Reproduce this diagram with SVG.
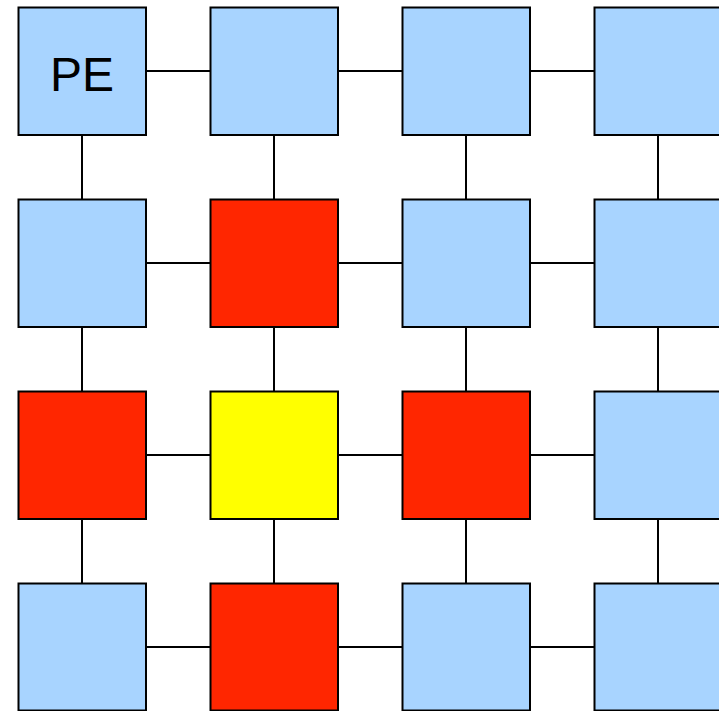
<svg xmlns="http://www.w3.org/2000/svg" width="719" height="711" viewBox="0 0 719 711">
<style>
.pe{stroke:#000;stroke-width:2}
.b{fill:#a8d4ff}
.r{fill:#ff2600}
.y{fill:#ffff00}
.c line{stroke:#000;stroke-width:2}
text{font-family:"Liberation Sans",Arial,sans-serif;font-size:48px;fill:#000}
</style>
<rect width="719" height="711" fill="#fff"/>
<g class="c" id="connectors">
<line x1="146" y1="71" x2="210" y2="71"/><line x1="338" y1="71" x2="402" y2="71"/><line x1="530" y1="71" x2="594" y2="71"/>
<line x1="146" y1="263" x2="210" y2="263"/><line x1="338" y1="263" x2="402" y2="263"/><line x1="530" y1="263" x2="594" y2="263"/>
<line x1="146" y1="455" x2="210" y2="455"/><line x1="338" y1="455" x2="402" y2="455"/><line x1="530" y1="455" x2="594" y2="455"/>
<line x1="146" y1="647" x2="210" y2="647"/><line x1="338" y1="647" x2="402" y2="647"/><line x1="530" y1="647" x2="594" y2="647"/>
<line x1="82" y1="135" x2="82" y2="199"/><line x1="274" y1="135" x2="274" y2="199"/><line x1="466" y1="135" x2="466" y2="199"/><line x1="658" y1="135" x2="658" y2="199"/>
<line x1="82" y1="327" x2="82" y2="391"/><line x1="274" y1="327" x2="274" y2="391"/><line x1="466" y1="327" x2="466" y2="391"/><line x1="658" y1="327" x2="658" y2="391"/>
<line x1="82" y1="519" x2="82" y2="583"/><line x1="274" y1="519" x2="274" y2="583"/><line x1="466" y1="519" x2="466" y2="583"/><line x1="658" y1="519" x2="658" y2="583"/>
</g>
<g id="pe00"><rect class="pe b" x="18.5" y="7.5" width="127.5" height="127.5"/><text x="82" y="91" text-anchor="middle">PE</text></g>
<g id="pe10"><rect class="pe b" x="210.5" y="7.5" width="127.5" height="127.5"/></g>
<g id="pe20"><rect class="pe b" x="402.5" y="7.5" width="127.5" height="127.5"/></g>
<g id="pe30"><rect class="pe b" x="594.5" y="7.5" width="127.5" height="127.5"/></g>
<g id="pe01"><rect class="pe b" x="18.5" y="199.5" width="127.5" height="127.5"/></g>
<g id="pe11"><rect class="pe r" x="210.5" y="199.5" width="127.5" height="127.5"/></g>
<g id="pe21"><rect class="pe b" x="402.5" y="199.5" width="127.5" height="127.5"/></g>
<g id="pe31"><rect class="pe b" x="594.5" y="199.5" width="127.5" height="127.5"/></g>
<g id="pe02"><rect class="pe r" x="18.5" y="391.5" width="127.5" height="127.5"/></g>
<g id="pe12"><rect class="pe y" x="210.5" y="391.5" width="127.5" height="127.5"/></g>
<g id="pe22"><rect class="pe r" x="402.5" y="391.5" width="127.5" height="127.5"/></g>
<g id="pe32"><rect class="pe b" x="594.5" y="391.5" width="127.5" height="127.5"/></g>
<g id="pe03"><rect class="pe b" x="18.5" y="583.5" width="127.5" height="127"/></g>
<g id="pe13"><rect class="pe r" x="210.5" y="583.5" width="127.5" height="127"/></g>
<g id="pe23"><rect class="pe b" x="402.5" y="583.5" width="127.5" height="127"/></g>
<g id="pe33"><rect class="pe b" x="594.5" y="583.5" width="127.5" height="127"/></g>
</svg>
